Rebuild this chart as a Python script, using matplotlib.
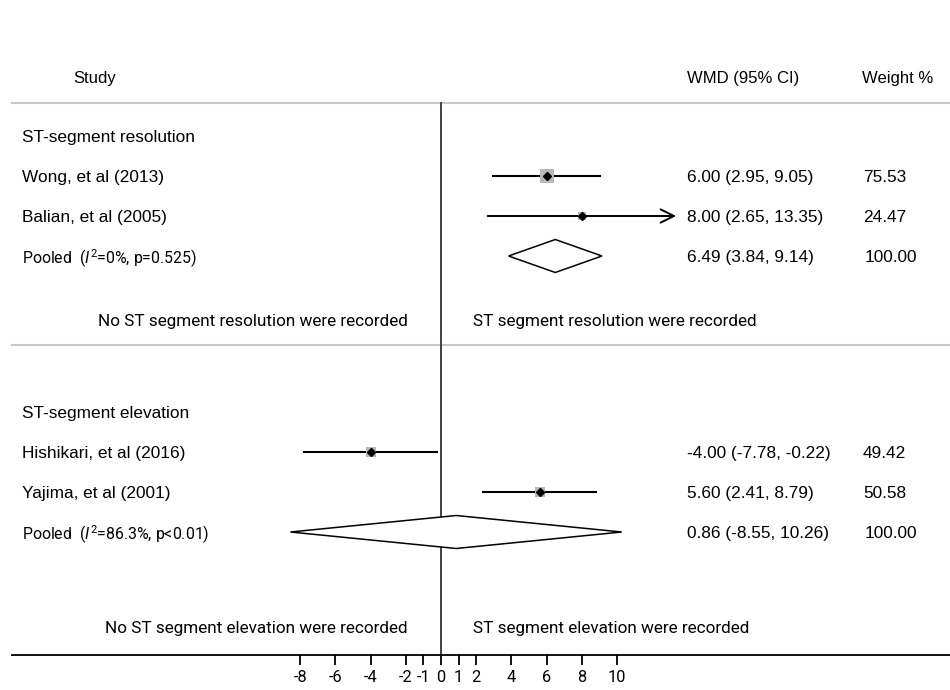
import numpy as np
import matplotlib
matplotlib.use('Agg')
import matplotlib.pyplot as plt
from matplotlib.patches import Polygon

# study level results (weighted mean difference, 95% CI, weight %)
groups = ['ST-segment resolution', 'ST-segment elevation']
studies = ['Wong, et al (2013)', 'Balian, et al (2005)',
           'Hishikari, et al (2016)', 'Yajima, et al (2001)']
study_group = [0, 0, 1, 1]
wmd = [6.00, 8.00, -4.00, 5.60]
ci_lo = [2.95, 2.65, -7.78, 2.41]
ci_hi = [9.05, 13.35, -0.22, 8.79]
weight = [75.53, 24.47, 49.42, 50.58]

# pooled estimates per group
pooled_wmd = [6.49, 0.86]
pooled_lo = [3.84, -8.55]
pooled_hi = [9.14, 10.26]
pooled_i2 = ['0%', '86.3%']
pooled_p = ['p=0.525', 'p<0.01']

left_notes = ['No ST segment resolution were recorded',
              'No ST segment elevation were recorded']
right_notes = ['ST segment resolution were recorded',
               'ST segment elevation were recorded']
ticks = [-8, -6, -4, -2, -1, 0, 1, 2, 4, 6, 8, 10]

# layout (pixel rows from the top of the figure)
W, H = 950, 690
x_zero, px_unit = 441, 17.61
y_axis = 655
y_header, y_hline = 77, 103
group_rows = [136, 412]
study_rows = [176, 216, 452, 492]
pooled_rows = [256, 532]
note_rows = [320, 627]
sep_rows = [345]

plt.rcParams['mathtext.fontset'] = 'custom'
plt.rcParams['mathtext.it'] = 'Roboto:italic'
plt.rcParams['mathtext.rm'] = 'Roboto'

tab_font = 'Liberation Sans'
din_font = 'Roboto'
tab_size = 12.4
VA = 'center_baseline'


def to_x(px):
    return (px - x_zero) / px_unit


fig = plt.figure(figsize=(W / 100, H / 100), dpi=100)
ax = fig.add_axes([0, (H - y_axis) / H, 1, y_axis / H])
ax.set_xlim(to_x(0), to_x(W))
ax.set_ylim(y_axis, 0)
trans = ax.get_yaxis_transform()

for s in ['left', 'right', 'top']:
    ax.spines[s].set_visible(False)
ax.spines['bottom'].set_bounds(to_x(12), to_x(W))
ax.spines['bottom'].set_linewidth(1.3)
ax.set_yticks([])
ax.set_xticks(ticks)
ax.set_xticklabels([str(t) for t in ticks], fontfamily=din_font, fontsize=11.8)
ax.tick_params(axis='x', length=7, width=1.3, pad=4)

# header
ax.text(73 / W, y_header, 'Study', transform=trans, fontfamily=tab_font,
        fontsize=12, va=VA)
ax.text(687 / W, y_header, 'WMD (95% CI)', transform=trans, fontfamily=tab_font,
        fontsize=12, va=VA)
ax.text(862 / W, y_header, 'Weight %', transform=trans, fontfamily=tab_font,
        fontsize=12, va=VA)
ax.plot([12 / W, 1], [y_hline, y_hline], transform=trans, color='#c8c8c8',
        lw=1.5, clip_on=False)
for y in sep_rows:
    ax.plot([12 / W, 1], [y, y], transform=trans, color='#c8c8c8',
            lw=1.5, clip_on=False)

# line of no effect
ax.plot([0, 0], [y_hline, y_axis], color='#333333', lw=1.3)

for g, name in enumerate(groups):
    ax.text(22 / W, group_rows[g], name, transform=trans, fontfamily=tab_font,
            fontsize=tab_size, va=VA)

for i, name in enumerate(studies):
    y = study_rows[i]
    ax.text(22 / W, y, name, transform=trans, fontfamily=tab_font,
            fontsize=tab_size, va=VA)
    ax.text(687 / W, y, '%.2f (%.2f, %.2f)' % (wmd[i], ci_lo[i], ci_hi[i]),
            transform=trans, fontfamily=tab_font, fontsize=tab_size, va=VA)
    ax.text(863 / W, y, '%.2f' % weight[i], transform=trans,
            fontfamily=tab_font, fontsize=tab_size, va=VA)
    if ci_hi[i] > ticks[-1]:
        ax.annotate('', xy=(ci_hi[i], y), xytext=(ci_lo[i], y),
                    arrowprops=dict(arrowstyle='->', lw=1.4, color='black',
                                    mutation_scale=24, shrinkA=0, shrinkB=0))
    else:
        ax.plot([ci_lo[i], ci_hi[i]], [y, y], color='black', lw=1.5)
    ax.scatter([wmd[i]], [y], marker='s', s=1.16 * weight[i],
               color='#b8b8b8', zorder=3, linewidths=0)
    ax.plot([wmd[i]], [y], marker='D', ms=4.5, color='black', zorder=4)

for g in range(len(groups)):
    y = pooled_rows[g]
    ax.text(22 / W, y, r'Pooled  ($\mathit{I}^{2}$=%s, %s)' % (pooled_i2[g], pooled_p[g]),
            transform=trans, fontfamily=din_font, fontsize=11.4, va=VA)
    ax.text(687 / W, y, '%.2f (%.2f, %.2f)' % (pooled_wmd[g], pooled_lo[g], pooled_hi[g]),
            transform=trans, fontfamily=tab_font, fontsize=tab_size, va=VA)
    ax.text(865 / W, y, '100.00', transform=trans, fontfamily=tab_font,
            fontsize=tab_size, va=VA)
    half = 16.5
    diamond = Polygon([(pooled_lo[g], y), (pooled_wmd[g], y - half),
                       (pooled_hi[g], y), (pooled_wmd[g], y + half)],
                      closed=True, facecolor='white', edgecolor='black',
                      lw=1.1, zorder=2)
    ax.add_patch(diamond)
    ax.text(408 / W, note_rows[g], left_notes[g], transform=trans,
            fontfamily=din_font, fontsize=12.3, ha='right', va=VA)
    ax.text(473 / W, note_rows[g], right_notes[g], transform=trans,
            fontfamily=din_font, fontsize=12.3, ha='left', va=VA)

fig.savefig('out.png', dpi=100, facecolor='white')
